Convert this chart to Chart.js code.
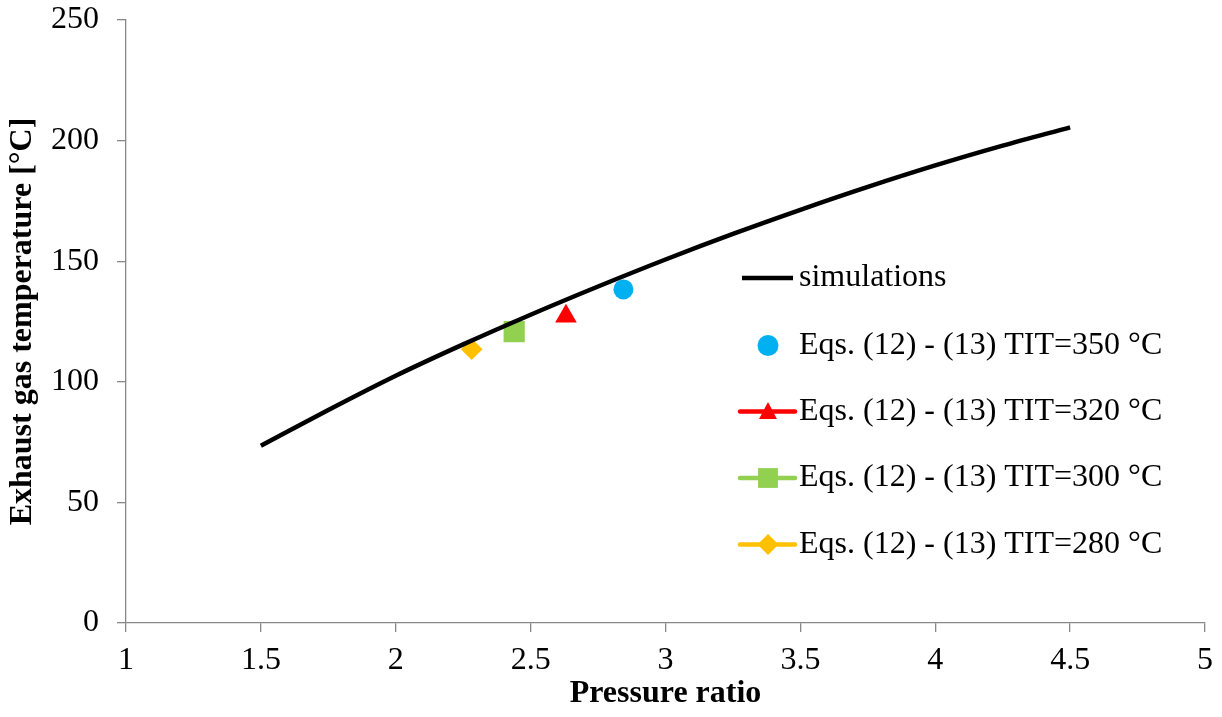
<!DOCTYPE html>
<html>
<head>
<meta charset="utf-8">
<script src="https://cdn.jsdelivr.net/npm/chart.js"></script>
<style>
  html, body { margin: 0; padding: 0; background: #fff; }
  #wrap { width: 1222px; height: 717px; }
</style>
</head>
<body>
<div id="wrap"><canvas id="chart" width="1222" height="717"></canvas></div>
<script>
// ── Data ──
const pressureRatio = [1.5, 1.75, 2.0, 2.25, 2.5, 2.75, 3.0, 3.25, 3.5, 3.75, 4.0, 4.25, 4.5];
const exhaustTemp   = [73.5, 88.3, 102.5, 115.5, 127.8, 139.5, 150.7, 161.3, 171.3, 180.8, 189.7, 197.9, 205.5];

const eqLabels   = ['Eqs. (12) - (13) TIT=350 °C', 'Eqs. (12) - (13) TIT=320 °C',
                    'Eqs. (12) - (13) TIT=300 °C', 'Eqs. (12) - (13) TIT=280 °C'];
const eqPressure = [2.844, 2.631, 2.439, 2.2815];
const eqTemp     = [138.3, 127.2, 120.8, 113.5];
const eqColors   = ['#00B0F0', '#FF0000', '#92D050', '#FFC000'];
const eqShapes   = ['circle', 'triangle', 'rect', 'rectRot'];
const eqSizes    = [10, 12.5, 15, 10.8];
const eqLegendLine = [false, true, true, true];

const xTicks = [1, 1.5, 2, 2.5, 3, 3.5, 4, 4.5, 5];
const yTicks = [0, 50, 100, 150, 200, 250];

const FONT = '"Liberation Serif", "Times New Roman", serif';
const AXIS_GREY = '#888888';

// ── Datasets ──
const datasets = [{
  label: 'simulations',
  data: pressureRatio.map((x, i) => ({ x, y: exhaustTemp[i] })),
  showLine: true,
  borderColor: '#000',
  borderWidth: 4.5,
  pointRadius: 0,
  cubicInterpolationMode: 'monotone',
  fill: false,
}];

eqLabels.forEach((label, i) => {
  datasets.push({
    label,
    data: [{ x: eqPressure[i], y: eqTemp[i] }],
    showLine: false,
    pointStyle: eqShapes[i],
    pointRadius: eqSizes[i],
    backgroundColor: eqColors[i],
    borderColor: eqColors[i],
    borderWidth: 0,
  });
});

// ── Legend (Excel style: line through marker) ──
function drawMarker(ctx, shape, x, y, r, color) {
  ctx.save();
  ctx.fillStyle = color;
  ctx.beginPath();
  if (shape === 'circle') {
    ctx.arc(x, y, r, 0, Math.PI * 2);
  } else if (shape === 'triangle') {
    const h = r * 1.6;
    ctx.moveTo(x, y - h / 2 - 1);
    ctx.lineTo(x + r * 0.85, y + h / 2 - 1);
    ctx.lineTo(x - r * 0.85, y + h / 2 - 1);
    ctx.closePath();
  } else if (shape === 'rect') {
    const s = r * Math.SQRT1_2;
    ctx.rect(x - s, y - s, 2 * s, 2 * s);
  } else {
    ctx.moveTo(x - r, y); ctx.lineTo(x, y - r); ctx.lineTo(x + r, y); ctx.lineTo(x, y + r);
    ctx.closePath();
  }
  ctx.fill();
  ctx.restore();
}

const excelLegend = {
  id: 'excelLegend',
  afterDraw(chart) {
    const ctx = chart.ctx;
    const x0 = 740, x1 = 795, tx = 799;
    const rowY = [278, 345.5, 411.5, 478, 544.5];
    ctx.save();
    ctx.font = '32px ' + FONT;
    ctx.textBaseline = 'middle';
    ctx.fillStyle = '#000';
    // simulations row
    ctx.strokeStyle = '#000';
    ctx.lineWidth = 4.5;
    ctx.beginPath(); ctx.moveTo(x0 + 2, rowY[0]); ctx.lineTo(x1 - 2, rowY[0]); ctx.stroke();
    ctx.fillText(datasets[0].label, tx, rowY[0]);
    eqLabels.forEach((label, i) => {
      const y = rowY[i + 1];
      if (eqLegendLine[i]) {
        ctx.strokeStyle = eqColors[i];
        ctx.lineWidth = 4.5;
        ctx.lineCap = 'round';
        ctx.beginPath(); ctx.moveTo(x0, y); ctx.lineTo(x1, y); ctx.stroke();
      }
      drawMarker(ctx, eqShapes[i], (x0 + x1) / 2 + 0.5, y, i === 2 ? 14 : 10.5, eqColors[i]);
      ctx.fillStyle = '#000';
      ctx.fillText(label, tx, y);
    });
    ctx.restore();
  }
};

// ── Chart ──
new Chart(document.getElementById('chart'), {
  type: 'scatter',
  data: { datasets },
  plugins: [excelLegend],
  options: {
    responsive: false,
    animation: false,
    layout: { padding: { top: 20, right: 17, left: 0, bottom: 0 } },
    plugins: { legend: { display: false }, tooltip: { enabled: false } },
    scales: {
      x: {
        type: 'linear',
        min: 1, max: 5,
        afterBuildTicks: s => { s.ticks = xTicks.map(v => ({ value: v })); },
        afterFit: s => { s.height = 94; s.paddingLeft = 0; s.paddingRight = 0; },
        grid: { drawOnChartArea: false, drawTicks: true, tickLength: 9, color: AXIS_GREY, lineWidth: 1.3 },
        border: { color: AXIS_GREY, width: 1.3 },
        ticks: { color: '#000', padding: 9, maxRotation: 0, font: { family: FONT, size: 32 },
                 callback: v => String(v) },
        title: { display: true, text: 'Pressure ratio', color: '#000', padding: { top: 0, bottom: 4 },
                 font: { family: FONT, size: 32, weight: 'bold' } },
      },
      y: {
        type: 'linear',
        min: 0, max: 250,
        afterBuildTicks: s => { s.ticks = yTicks.map(v => ({ value: v })); },
        afterFit: s => { s.width = 126; s.paddingTop = 0; s.paddingBottom = 0; },
        grid: { drawOnChartArea: false, drawTicks: true, tickLength: 9, color: AXIS_GREY, lineWidth: 1.3 },
        border: { color: AXIS_GREY, width: 1.3 },
        ticks: { color: '#000', padding: 18, font: { family: FONT, size: 32 },
                 callback: v => String(v) },
        title: { display: true, text: 'Exhaust gas temperature [°C]', color: '#000', padding: { top: 4, bottom: 0 },
                 font: { family: FONT, size: 32, weight: 'bold' } },
      },
    },
  },
});
</script>
</body>
</html>
